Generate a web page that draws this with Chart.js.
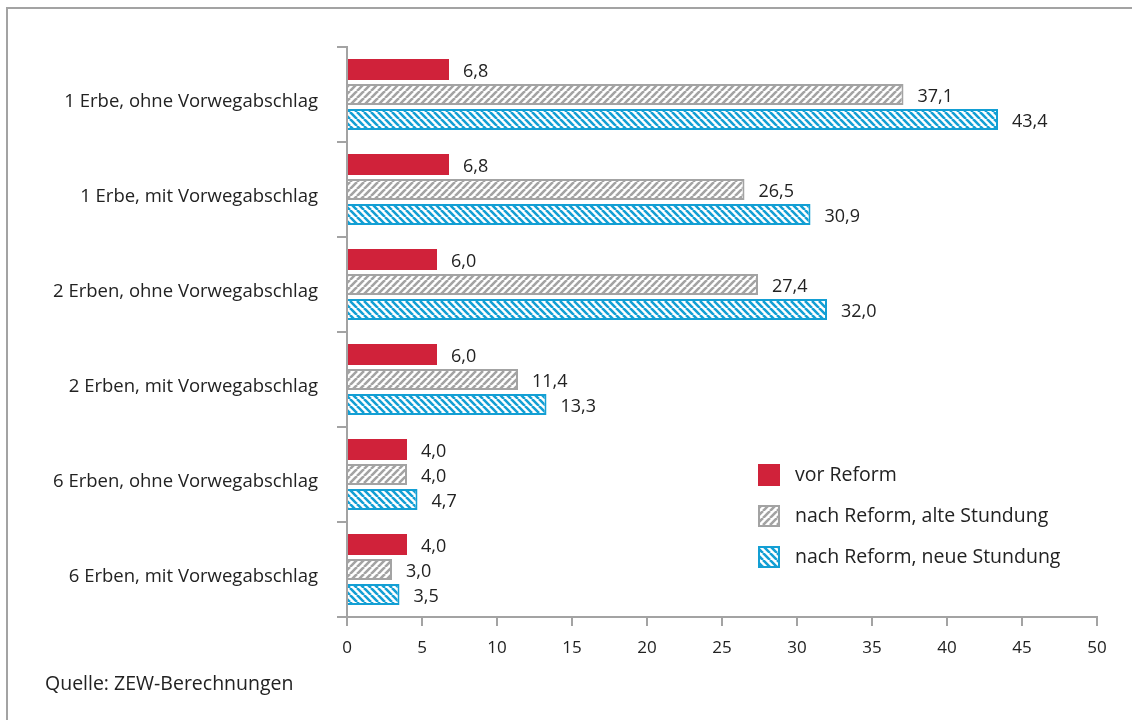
<!DOCTYPE html>
<html>
<head>
<meta charset="utf-8">
<script src="https://cdn.jsdelivr.net/npm/chart.js@4"></script>
<style>
  html, body { margin: 0; padding: 0; background: #fff; }
  #wrap { position: relative; width: 1132px; height: 720px; overflow: hidden; }
  #frame {
    position: absolute; left: 6px; top: 7px; right: -10px; bottom: -10px;
    border-left: 2px solid #a3a3a3; border-top: 2px solid #a3a3a3;
  }
  #chart { position: absolute; left: 0; top: 0; }
  #source {
    position: absolute; left: 45px; top: 669px;
    font: 19.5px "Open Sans", sans-serif; color: #222;
  }
</style>
</head>
<body>
<div id="wrap">
  <div id="frame"></div>
  <canvas id="chart" width="1132" height="720"></canvas>
  <div id="source">Quelle: ZEW-Berechnungen</div>
</div>
<script>
// ======================
// DATA
// ======================
const categories = [
  "1 Erbe, ohne Vorwegabschlag",
  "1 Erbe, mit Vorwegabschlag",
  "2 Erben, ohne Vorwegabschlag",
  "2 Erben, mit Vorwegabschlag",
  "6 Erben, ohne Vorwegabschlag",
  "6 Erben, mit Vorwegabschlag"
];

const seriesNames = ["vor Reform", "nach Reform, alte Stundung", "nach Reform, neue Stundung"];

const vorReform = [6.8, 6.8, 6.0, 6.0, 4.0, 4.0];
const alteStundung = [37.1, 26.5, 27.4, 11.4, 4.0, 3.0];
const neueStundung = [43.4, 30.9, 32.0, 13.3, 4.7, 3.5];

const xTicks = [0, 5, 10, 15, 20, 25, 30, 35, 40, 45, 50];

// ======================
// STYLES
// ======================
const RED = "#d0223a";
const GREY = "#a3a3a3";
const BLUE = "#139fd4";
const AXIS = "#a3a3a3";
const TEXT = "#222";
const FONT = "'Open Sans', sans-serif";

// striped fill; dir 1 = "/" , dir -1 = "\"
function makeStripes(color, dir) {
  const s = 7;
  const c = document.createElement("canvas");
  c.width = s; c.height = s;
  const ctx = c.getContext("2d");
  ctx.fillStyle = "#fff";
  ctx.fillRect(0, 0, s, s);
  ctx.strokeStyle = color;
  ctx.lineWidth = 2.6;
  ctx.beginPath();
  for (const k of [-s, 0, s]) {
    if (dir > 0) {
      ctx.moveTo(k, s); ctx.lineTo(k + s, 0);
    } else {
      ctx.moveTo(k, 0); ctx.lineTo(k + s, s);
    }
  }
  ctx.stroke();
  return c;
}

const canvas = document.getElementById("chart");
const mainCtx = canvas.getContext("2d");
const greyFill = mainCtx.createPattern(makeStripes(GREY, 1), "repeat");
const blueFill = mainCtx.createPattern(makeStripes(BLUE, -1), "repeat");

const fills = [RED, greyFill, blueFill];
const borders = [RED, GREY, BLUE];

// value labels at bar ends, German decimal comma
const valueLabels = {
  id: "valueLabels",
  afterDatasetsDraw(chart) {
    const ctx = chart.ctx;
    ctx.save();
    ctx.font = "18px " + FONT;
    ctx.fillStyle = TEXT;
    ctx.textAlign = "left";
    ctx.textBaseline = "middle";
    chart.data.datasets.forEach((ds, i) => {
      chart.getDatasetMeta(i).data.forEach((bar, j) => {
        ctx.fillText(ds.data[j].toFixed(1).replace(".", ","), bar.x + 14, bar.y + 2);
      });
    });
    ctx.restore();
  }
};

// legend drawn inside plot area
const boxLegend = {
  id: "boxLegend",
  afterDraw(chart) {
    const ctx = chart.ctx;
    const x = 758, y0 = 475, step = 41, size = 22;
    ctx.save();
    ctx.font = "19.5px " + FONT;
    ctx.textBaseline = "middle";
    seriesNames.forEach((name, i) => {
      const y = y0 + i * step;
      ctx.fillStyle = fills[i];
      ctx.fillRect(x, y - size / 2, size, size);
      ctx.strokeStyle = borders[i];
      ctx.lineWidth = 2;
      ctx.strokeRect(x + 1, y - size / 2 + 1, size - 2, size - 2);
      ctx.fillStyle = TEXT;
      ctx.fillText(name, x + 37, y);
    });
    ctx.restore();
  }
};

new Chart(canvas, {
  type: "bar",
  data: {
    labels: categories,
    datasets: [vorReform, alteStundung, neueStundung].map((d, i) => ({
      label: seriesNames[i],
      data: d,
      backgroundColor: fills[i],
      borderColor: borders[i],
      borderWidth: i === 0 ? 0 : 2,
      categoryPercentage: 0.79,
      barPercentage: 0.84
    }))
  },
  options: {
    indexAxis: "y",
    responsive: false,
    animation: false,
    layout: { padding: { left: 0, right: 35, top: 47, bottom: 0 } },
    plugins: { legend: { display: false }, tooltip: { enabled: false } },
    scales: {
      x: {
        min: 0, max: 50,
        afterFit: s => { s.height = 103; },
        afterBuildTicks: s => { s.ticks = xTicks.map(v => ({ value: v })); },
        ticks: { color: TEXT, font: { family: FONT, size: 17 }, padding: 12 },
        grid: { drawOnChartArea: false, tickLength: 9, color: AXIS, lineWidth: 2 },
        border: { color: AXIS, width: 2 }
      },
      y: {
        afterFit: s => { s.width = 347; },
        ticks: { color: TEXT, font: { family: FONT, size: 18.5 }, padding: 19, labelOffset: 7 },
        grid: { drawOnChartArea: false, tickLength: 10, color: AXIS, lineWidth: 2 },
        border: { color: AXIS, width: 2 }
      }
    }
  },
  plugins: [valueLabels, boxLegend]
});
</script>
</body>
</html>
